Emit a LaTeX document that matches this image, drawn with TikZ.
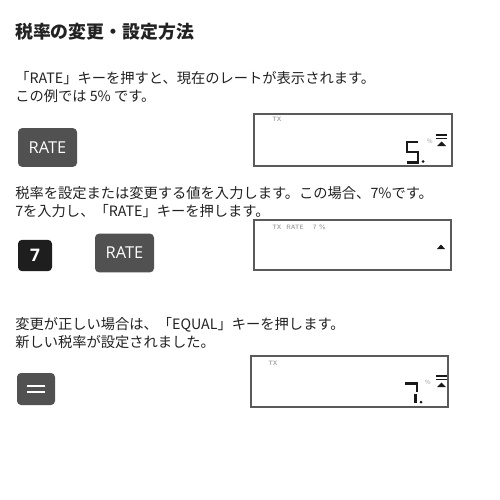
\documentclass[tikz,border=0pt]{standalone}
\usepackage{fontspec}
\setmainfont{Noto Sans CJK JP}
\newfontfamily\btnfont{Open Sans}
\usetikzlibrary{positioning}
\definecolor{keygray}{HTML}{515151}
\definecolor{keyblack}{HTML}{1E1E1E}
\definecolor{txtcol}{HTML}{222222}
\definecolor{lcdline}{HTML}{5A5A5A}
\tikzset{
  txt/.style={anchor=west, inner sep=0pt, text=txtcol, font=\fontsize{10.7}{12}\selectfont},
  titletxt/.style={anchor=west, inner sep=0pt, text=txtcol, font=\fontsize{13.4}{16}\selectfont\bfseries},
  keybox/.style={fill=keygray, rounded corners=3pt, inner sep=0pt, text=white},
  ratekey/.style={keybox, minimum width=44.25pt, minimum height=29pt, font=\btnfont\fontsize{12.3}{14}\selectfont},
  lcd/.style={draw=lcdline, line width=1.4pt, fill=white, inner sep=0pt},
  seg/.style={line width=1.9pt, draw=black!90},
  tiny/.style={inner sep=0pt, text=black!35, font=\sffamily\bfseries\fontsize{4.8}{5}\selectfont},
  pct/.style={inner sep=0pt, text=black!40, font=\fontsize{4.5}{5}\selectfont},
}
\begin{document}
\begin{tikzpicture}[x=0.75pt, y=-0.75pt]
\useasboundingbox (0,0) rectangle (500,500);
\fill[white] (0,0) rectangle (500,500);

% title
\node[titletxt] (title) at (15,32) {税率の変更・設定方法};

% step 1
\node[txt] (t1a) at (15,78) {「RATE」キーを押すと、現在のレートが表示されます。};
\node[txt] (t1b) at (15,96) {この例では 5\% です。};
\node[ratekey] (k1) at (47.5,147.5) {RATE};
\node[lcd, minimum width=148.5pt, minimum height=39pt] (d1) at (353,140) {};
\node[tiny, anchor=north west] (d1l) at (272,117) {TX};
% digit 5.
\draw[seg] (418,142) -- (407,142) -- (407,152) -- (418,152) -- (418,162.5) -- (407,162.5);
\fill[black!90] (423,161.5) circle (1.5);
\node[pct] (d1p) at (430,141) {\%};
\draw[black!90, line width=1.3pt] (436,135) -- (447,135) (436,138.5) -- (447,138.5);
\fill[black!90] (437,146) -- (446,146) -- (441.5,141.5) -- cycle;

% step 2
\node[txt] (t2a) at (15,193) {税率を設定または変更する値を入力します。この場合、7\%です。};
\node[txt] (t2b) at (15,211) {7を入力し、「RATE」キーを押します。};
\node[keybox, fill=keyblack, minimum width=25.5pt, minimum height=23.5pt, font=\btnfont\bfseries\fontsize{13}{15}\selectfont] (k7) at (35,255.5) {7};
\node[ratekey] (k2) at (124.5,253) {RATE};
\node[lcd, minimum width=147.75pt, minimum height=37.5pt] (d2) at (352.5,245) {};
\node[tiny, anchor=north west] (d2l) at (272,224) {TX\ \ RATE\ \ \ \ 7\ \%};
\fill[black!90] (437,249) -- (445,249) -- (441,244.5) -- cycle;

% step 3
\node[txt] (t3a) at (15,325) {変更が正しい場合は、「EQUAL」キーを押します。};
\node[txt] (t3b) at (15,342) {新しい税率が設定されました。};
\node[keybox, minimum width=28.5pt, minimum height=24pt] (ke) at (36,389) {};
\draw[white, line width=1.5pt] ([xshift=-6.4pt,yshift=2.6pt]ke.center) -- ([xshift=6.4pt,yshift=2.6pt]ke.center)
  ([xshift=-6.4pt,yshift=-2.6pt]ke.center) -- ([xshift=6.4pt,yshift=-2.6pt]ke.center);
\node[lcd, minimum width=147.75pt, minimum height=38.25pt] (d3) at (349.5,381.5) {};
\node[tiny, anchor=north west] (d3l) at (268,361) {TX};
% digit 7.
\draw[seg] (405,383.5) -- (417,383.5) -- (417,392);
\draw[seg] (415.5,393.5) -- (415.5,403);
\fill[black!90] (421,402) circle (1.5);
\node[pct] (d3p) at (428,382) {\%};
\draw[black!90, line width=1.3pt] (436,376) -- (447,376) (436,379.5) -- (447,379.5);
\fill[black!90] (437,387) -- (446,387) -- (441.5,382.5) -- cycle;
\end{tikzpicture}
\end{document}
